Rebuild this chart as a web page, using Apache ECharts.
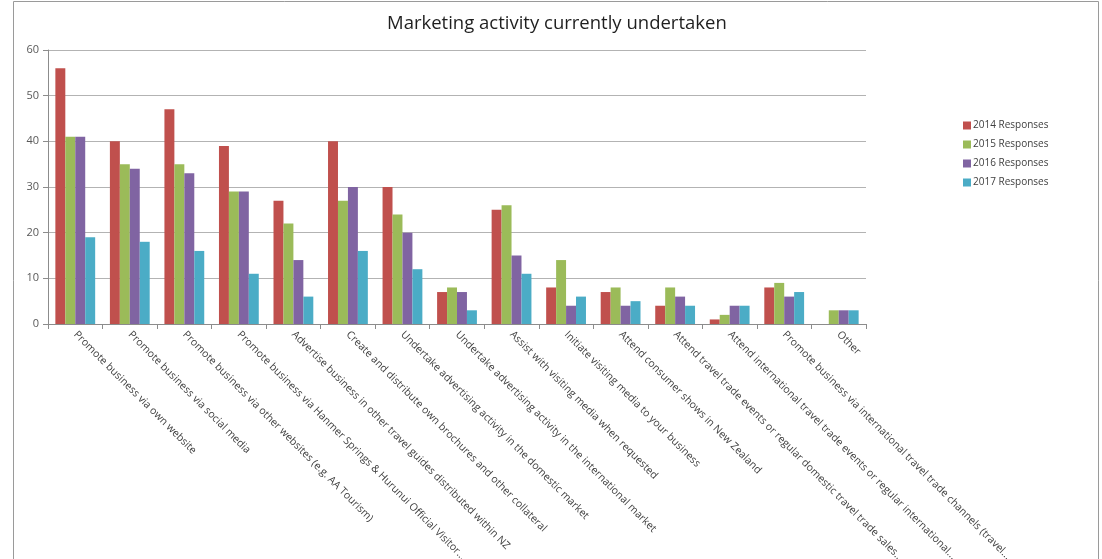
<!DOCTYPE html>
<html>
<head>
<meta charset="utf-8">
<title>Marketing activity currently undertaken</title>
<script src="https://cdn.jsdelivr.net/npm/echarts@6/dist/echarts.min.js"></script>
<style>
  html, body { margin: 0; padding: 0; background: #ffffff; overflow: hidden; }
  #chart { width: 1102px; height: 559px; }
</style>
</head>
<body>
<div id="chart"></div>
<script>
// Survey categories (long names are shortened with an ellipsis as printed)
const categories = [
  'Promote business via own website',
  'Promote business via social media',
  'Promote business via other websites (e.g. AA Tourism)',
  'Promote business via Hanmer Springs & Hurunui Official Visitor...',
  'Advertise business in other travel guides distributed within NZ',
  'Create and distribute own brochures and other collateral',
  'Undertake advertising activity in the domestic market',
  'Undertake advertising activity in the international market',
  'Assist with visiting media when requested',
  'Initiate visiting media to your business',
  'Attend consumer shows in New Zealand',
  'Attend travel trade events or regular domestic travel trade sales...',
  'Attend international travel trade events or regular international...',
  'Promote business via international travel trade channels (travel...',
  'Other'
];

// Number of responses per year
const responses2014 = [56, 40, 47, 39, 27, 40, 30, 7, 25, 8, 7, 4, 1, 8, null];
const responses2015 = [41, 35, 35, 29, 22, 27, 24, 8, 26, 14, 8, 8, 2, 9, 3];
const responses2016 = [41, 34, 33, 29, 14, 30, 20, 7, 15, 4, 4, 6, 4, 6, 3];
const responses2017 = [19, 18, 16, 11, 6, 16, 12, 3, 11, 6, 5, 4, 4, 7, 3];

const seriesNames = ['2014 Responses', '2015 Responses', '2016 Responses', '2017 Responses'];
const seriesColors = ['#C0504D', '#9BBB59', '#8064A2', '#4BACC6'];
const seriesData = [responses2014, responses2015, responses2016, responses2017];

const yTicks = { min: 0, max: 60, interval: 10 };

const FONT = '"Open Sans", "Noto Sans", sans-serif';

const chart = echarts.init(document.getElementById('chart'), null, { renderer: 'canvas' });

chart.setOption({
  backgroundColor: '#ffffff',
  animation: false,
  textStyle: { fontFamily: FONT },
  title: {
    text: 'Marketing activity currently undertaken',
    left: 382,
    top: 9,
    textStyle: { fontFamily: FONT, fontSize: 18.5, fontWeight: 'normal', color: '#1f1f1f' }
  },
  graphic: [{
    type: 'rect',
    shape: { x: 13.5, y: 1.5, width: 1085, height: 600 },
    style: { fill: 'none', stroke: '#9a9a9a', lineWidth: 1 },
    silent: true,
    z: 100
  }],
  legend: {
    orient: 'vertical',
    left: 958,
    top: 115,
    itemWidth: 8,
    itemHeight: 8,
    itemGap: 8,
    icon: 'rect',
    textStyle: { fontFamily: FONT, fontSize: 10, lineHeight: 11, color: '#404040', padding: [0, 0, 0, -3] },
    data: seriesNames
  },
  grid: { left: 48, right: 236, top: 50, bottom: 235, containLabel: false, outerBoundsMode: 'none' },
  xAxis: {
    type: 'category',
    data: categories,
    axisLine: { lineStyle: { color: '#8c8c8c' } },
    axisTick: { show: true, length: 5, lineStyle: { color: '#8c8c8c' } },
    axisLabel: {
      interval: 0,
      rotate: -45,
      margin: 9,
      fontFamily: FONT,
      fontSize: 10.5,
      color: '#404040'
    }
  },
  yAxis: {
    type: 'value',
    min: yTicks.min,
    max: yTicks.max,
    interval: yTicks.interval,
    axisLine: { show: true, lineStyle: { color: '#8c8c8c' } },
    axisTick: { show: true, length: 5, lineStyle: { color: '#8c8c8c' } },
    axisLabel: { fontFamily: FONT, fontSize: 11, color: '#595959', margin: 9 },
    splitLine: { lineStyle: { color: '#b3b3b3' } }
  },
  series: seriesNames.map((name, i) => ({
    name,
    type: 'bar',
    data: seriesData[i],
    barGap: '0%',
    barCategoryGap: '27%',
    itemStyle: { color: seriesColors[i] }
  }))
});
</script>
</body>
</html>
